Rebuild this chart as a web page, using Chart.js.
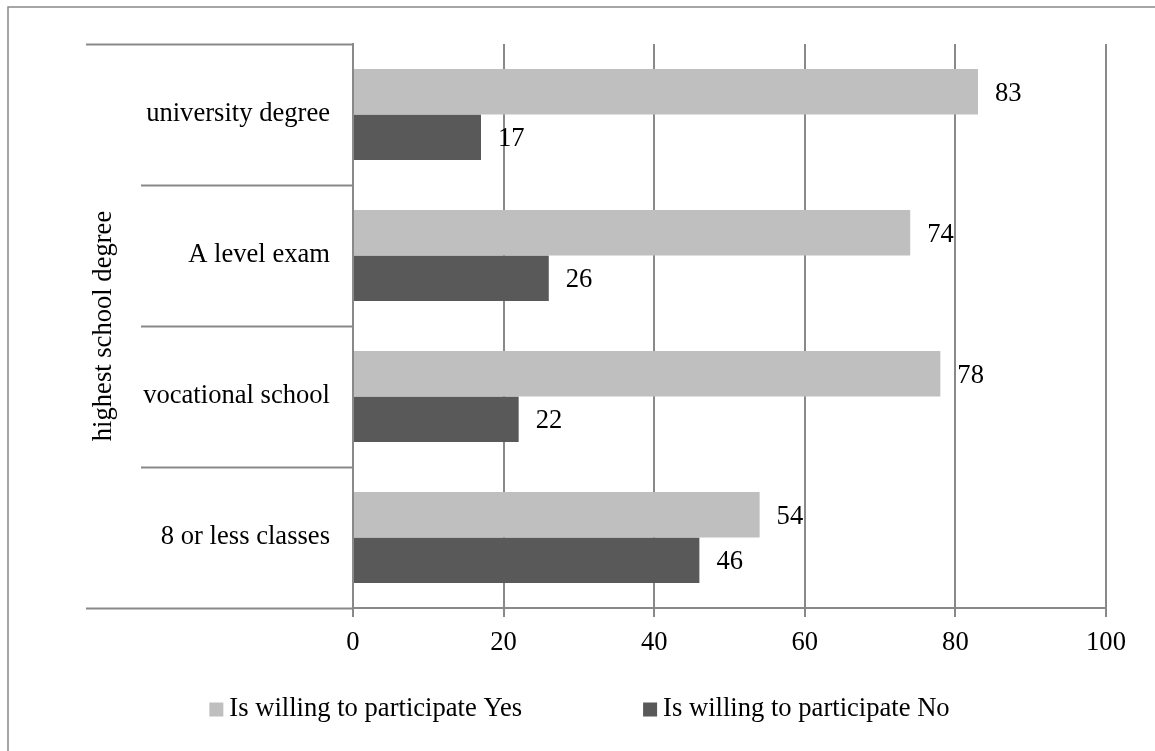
<!DOCTYPE html>
<html>
<head>
<meta charset="utf-8">
<title>Willingness to participate by highest school degree</title>
<script src="https://cdn.jsdelivr.net/npm/chart.js@4/dist/chart.umd.min.js"></script>
<style>
  html, body { margin: 0; padding: 0; background: #ffffff; }
  #wrap { width: 1155px; height: 751px; }
  canvas { display: block; }
</style>
</head>
<body>
<div id="wrap"><canvas id="chart" width="1155" height="751"></canvas></div>
<script>
// Categories, top to bottom
const categories = ['university degree', 'A level exam', 'vocational school', '8 or less classes'];
// Percent of respondents per category
const yesValues = [83, 74, 78, 54];
const noValues = [17, 26, 22, 46];
const seriesLabels = ['Is willing to participate Yes', 'Is willing to participate No'];
const axisTitle = 'highest school degree';
const xMin = 0, xMax = 100, xStep = 20;

const FONT = "'Liberation Serif', 'Times New Roman', serif";
const FONT_SIZE = 26.6;
const GRID = '#898989';
const COLORS = ['#bfbfbf', '#595959'];

Chart.defaults.font.family = FONT;
Chart.defaults.font.size = FONT_SIZE;
Chart.defaults.color = '#000000';

// Frame lines, value labels and legend
const decorations = {
  id: 'decorations',
  afterDraw(chart) {
    const ctx = chart.ctx;
    ctx.save();
    // frame (top and left edges)
    ctx.strokeStyle = GRID;
    ctx.lineWidth = 1.5;
    ctx.beginPath();
    ctx.moveTo(8, chart.height);
    ctx.lineTo(8, 7);
    ctx.lineTo(chart.width, 7);
    ctx.stroke();

    // value labels at bar ends
    ctx.font = FONT_SIZE + 'px ' + FONT;
    ctx.fillStyle = '#000000';
    ctx.textBaseline = 'middle';
    ctx.textAlign = 'left';
    chart.data.datasets.forEach((ds, di) => {
      const meta = chart.getDatasetMeta(di);
      meta.data.forEach((bar, i) => {
        ctx.fillText(String(ds.data[i]), bar.x + 17, bar.y + 2);
      });
    });

    // legend
    const box = 14, gap = 6, spacing = 121;
    const items = chart.data.datasets.map(ds => ({
      text: ds.label, color: ds.backgroundColor, w: ctx.measureText(ds.label).width
    }));
    let total = 0;
    items.forEach((it, i) => { total += box + gap + it.w + (i ? spacing : 0); });
    let x = chart.width / 2 - total / 2 + 2;
    const cy = 709.5;
    items.forEach((it) => {
      ctx.fillStyle = it.color;
      ctx.fillRect(x, cy - box / 2, box, box);
      ctx.fillStyle = '#000000';
      ctx.fillText(it.text, x + box + gap, cy);
      x += box + gap + it.w + spacing;
    });
    ctx.restore();
  }
};

new Chart(document.getElementById('chart'), {
  type: 'bar',
  data: {
    labels: categories,
    datasets: [
      { label: seriesLabels[0], data: yesValues, backgroundColor: COLORS[0] },
      { label: seriesLabels[1], data: noValues, backgroundColor: COLORS[1] }
    ]
  },
  options: {
    indexAxis: 'y',
    responsive: false,
    animation: false,
    events: [],
    layout: { padding: { left: 86, top: 44, right: 49, bottom: 83 } },
    datasets: { bar: { categoryPercentage: 0.645, barPercentage: 1.0 } },
    plugins: { legend: { display: false }, tooltip: { enabled: false } },
    scales: {
      x: {
        min: xMin, max: xMax,
        ticks: { stepSize: xStep, padding: 10, color: '#000000' },
        grid: { color: GRID, lineWidth: 2, tickLength: 9, tickColor: GRID, tickWidth: 2 },
        border: { display: true, color: GRID, width: 2 },
        afterFit(scale) { scale.height = 60; }
      },
      y: {
        offset: true,
        ticks: { padding: -244, color: '#000000' },
        grid: {
          offset: true,
          drawOnChartArea: false,
          drawTicks: true,
          tickLength: 267,
          tickColor: GRID,
          tickWidth: 2,
          // inner separators stop short of the axis title
          tickBorderDash: (c) => (c.type === 'scale' || c.index === 0) ? [] : [0, 55, 400]
        },
        border: { display: true, color: GRID, width: 2 },
        title: {
          display: true, text: axisTitle, color: '#000000',
          font: { size: FONT_SIZE }, padding: { top: 2, bottom: 0 }
        },
        afterFit(scale) { scale.width = 267; }
      }
    }
  },
  plugins: [decorations]
});
</script>
</body>
</html>
